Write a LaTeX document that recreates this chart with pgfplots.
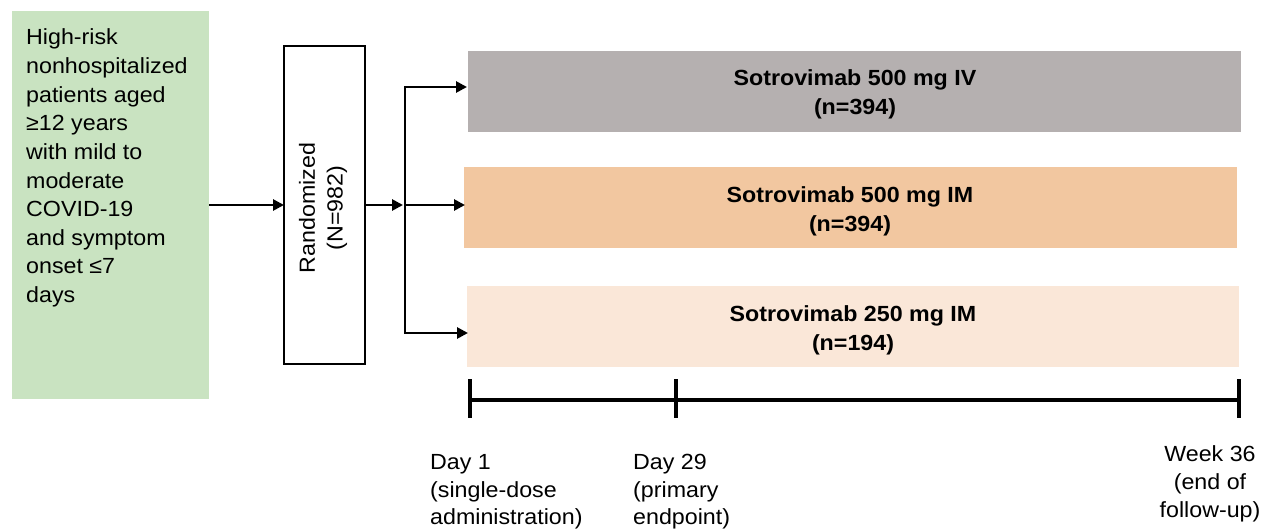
\documentclass[border=0pt]{standalone}
\usepackage{pgfplots}
\pgfplotsset{compat=1.18}
\usetikzlibrary{arrows.meta}
\usepackage{fontspec}
\setmainfont{Liberation Sans}[FakeStretch=1.06]
\definecolor{cgreen}{RGB}{201,227,193}
\definecolor{cgray}{RGB}{181,176,176}
\definecolor{corange}{RGB}{242,199,160}
\definecolor{cpeach}{RGB}{250,231,216}
\newcommand\tf{\fontsize{22}{28}\selectfont}
\begin{document}
\begin{tikzpicture}
\begin{axis}[width=1263bp, height=529bp, scale only axis,
  xmin=0, xmax=1263, ymin=0, ymax=529, y dir=reverse,
  hide axis, clip=false]
\path (rel axis cs:0,0) rectangle (rel axis cs:1,1);
% green box
\addplot[draw=none, fill=cgreen] coordinates {(12,11) (209,11) (209,399) (12,399)} -- cycle;
% arm boxes
\addplot[draw=none, fill=cgray] coordinates {(468,51) (1241,51) (1241,132) (468,132)} -- cycle;
\addplot[draw=none, fill=corange] coordinates {(464,167) (1237,167) (1237,248) (464,248)} -- cycle;
\addplot[draw=none, fill=cpeach] coordinates {(467,286) (1239,286) (1239,367) (467,367)} -- cycle;
% randomized box
\addplot[draw=black, fill=white, line width=2.7bp] coordinates {(284,46) (365,46) (365,364) (284,364)} -- cycle;
% arrows
\addplot[line width=2.7bp, -{Triangle[length=11bp,width=11bp]}] coordinates {(209,205) (284,205)};
\addplot[line width=2.7bp, -{Triangle[length=11bp,width=11bp]}] coordinates {(365,205) (403,205)};
\addplot[line width=2.7bp, line cap=rect] coordinates {(405,87) (405,333)};
\addplot[line width=2.7bp, -{Triangle[length=11bp,width=11bp]}] coordinates {(405,87) (467,87)};
\addplot[line width=2.7bp, -{Triangle[length=11bp,width=11bp]}] coordinates {(405,205) (465,205)};
\addplot[line width=2.7bp, -{Triangle[length=11bp,width=11bp]}] coordinates {(405,333) (468,333)};
% timeline
\addplot[line width=3.4bp] coordinates {(469,400) (1239,400)};
\addplot[line width=3.6bp] coordinates {(470,379) (470,418)};
\addplot[line width=3.6bp] coordinates {(676,379) (676,418)};
\addplot[line width=3.6bp] coordinates {(1239,379) (1239,418)};
% green box text
\node[anchor=base west, font=\tf, inner sep=0] at (axis cs:26,45.0) {High-risk};
\node[anchor=base west, font=\tf, inner sep=0] at (axis cs:26,73.6) {nonhospitalized};
\node[anchor=base west, font=\tf, inner sep=0] at (axis cs:26,102.2) {patients aged};
\node[anchor=base west, font=\tf, inner sep=0] at (axis cs:26,130.8) {≥12 years};
\node[anchor=base west, font=\tf, inner sep=0] at (axis cs:26,159.4) {with mild to};
\node[anchor=base west, font=\tf, inner sep=0] at (axis cs:26,188.0) {moderate};
\node[anchor=base west, font=\tf, inner sep=0] at (axis cs:26,216.6) {COVID-19};
\node[anchor=base west, font=\tf, inner sep=0] at (axis cs:26,245.2) {and symptom};
\node[anchor=base west, font=\tf, inner sep=0] at (axis cs:26,273.8) {onset ≤7};
\node[anchor=base west, font=\tf, inner sep=0] at (axis cs:26,302.4) {days};
% randomized text
\node[rotate=90, font=\tf, inner sep=0] at (axis cs:307,208) {Randomized};
\node[rotate=90, font=\tf, inner sep=0] at (axis cs:337,208) {(N=982)};
% arm labels
\node[anchor=base, font=\tf\bfseries, inner sep=0] at (axis cs:855,86) {Sotrovimab 500 mg IV};
\node[anchor=base, font=\tf\bfseries, inner sep=0] at (axis cs:855,114) {(n=394)};
\node[anchor=base, font=\tf\bfseries, inner sep=0] at (axis cs:850,202) {Sotrovimab 500 mg IM};
\node[anchor=base, font=\tf\bfseries, inner sep=0] at (axis cs:850,231) {(n=394)};
\node[anchor=base, font=\tf\bfseries, inner sep=0] at (axis cs:853,321) {Sotrovimab 250 mg IM};
\node[anchor=base, font=\tf\bfseries, inner sep=0] at (axis cs:853,350) {(n=194)};
% timeline labels
\node[anchor=base west, font=\tf, inner sep=0] at (axis cs:430,469) {Day 1};
\node[anchor=base west, font=\tf, inner sep=0] at (axis cs:430,497) {(single-dose};
\node[anchor=base west, font=\tf, inner sep=0] at (axis cs:430,524) {administration)};
\node[anchor=base west, font=\tf, inner sep=0] at (axis cs:633,469) {Day 29};
\node[anchor=base west, font=\tf, inner sep=0] at (axis cs:633,497) {(primary};
\node[anchor=base west, font=\tf, inner sep=0] at (axis cs:633,524) {endpoint)};
\node[anchor=base, font=\tf, inner sep=0] at (axis cs:1210,461) {Week 36};
\node[anchor=base, font=\tf, inner sep=0] at (axis cs:1210,489) {(end of};
\node[anchor=base, font=\tf, inner sep=0] at (axis cs:1210,517) {follow-up)};
\end{axis}
\end{tikzpicture}
\end{document}
